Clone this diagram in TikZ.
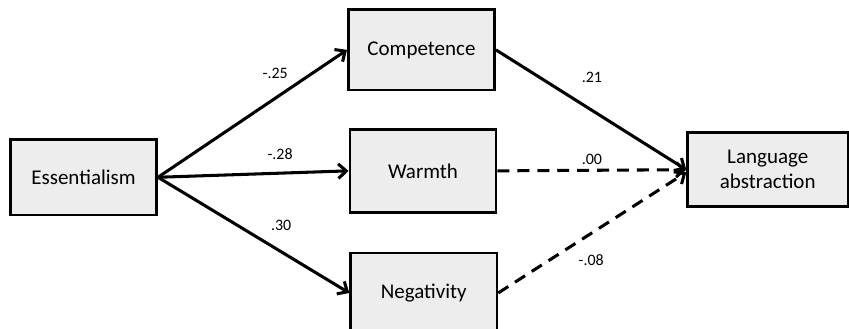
\documentclass[tikz,border=0pt]{standalone}
\usepackage{fontspec}
\setmainfont{Carlito}
\usetikzlibrary{arrows.meta}

\tikzset{
  var/.style = {draw, line width = 2pt, fill = black!7, minimum width = 3.87cm,
                align = center, font = \fontsize{15.8}{19}\selectfont},
  coef/.style = {font = \fontsize{12}{14}\selectfont},
  path/.style = {line width = 2.3pt, -{Straight Barb[length = 6pt, width = 11pt, line width = 2.3pt]}},
  nopath/.style = {path, dash pattern = on 9pt off 6pt}
}

\begin{document}
\begin{tikzpicture}[scale = 1]
\useasboundingbox (0, 0) rectangle (22.46, 8.70);
\node[var, minimum height = 2.0cm] (ess) at (2.21, 4.01) {Essentialism};
\node[var, minimum height = 2.12cm] (comp) at (11.15, 7.38) {Competence};
\node[var, minimum height = 2.2cm] (warm) at (11.19, 4.18) {Warmth};
\node[var, minimum height = 2.12cm] (neg) at (11.21, 0.95) {Negativity};
\node[var, minimum height = 1.96cm, minimum width = 4.24cm] (lang) at (20.31, 4.21) {Language\\abstraction};
% paths
\draw[path] (ess.east) -- (comp.west);
\draw[path] (ess.east) -- (warm.west);
\draw[path] (ess.east) -- (neg.west);
\draw[path] (comp.east) -- (lang.west);
\draw[nopath] (warm.east) -- (lang.west);
\draw[nopath] (neg.east) -- ([yshift = -2pt]lang.west);
% coefficients
\node[coef] (c1) at (7.28, 6.77) {-.25};
\node[coef] (c2) at (7.41, 4.63) {-.28};
\node[coef] (c3) at (7.44, 2.73) {.30};
\node[coef] (c4) at (15.66, 6.64) {.21};
\node[coef] (c5) at (15.66, 4.47) {.00};
\node[coef] (c6) at (15.64, 1.83) {-.08};
\end{tikzpicture}
\end{document}
